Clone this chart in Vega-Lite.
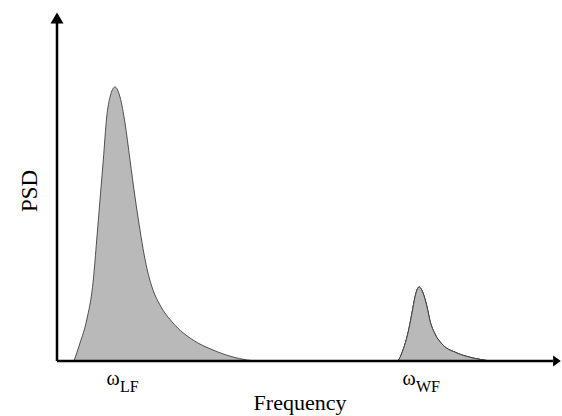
{
  "$schema": "https://vega.github.io/schema/vega-lite/v6.json",
  "width": 562,
  "height": 416,
  "autosize": {"type": "fit", "contains": "padding"},
  "padding": 0,
  "background": "white",
  "config": {"view": {"stroke": null}},
  "datasets": {
    "psd": [
      {"peak": "LF", "f": 0.17, "p": 0},
      {"peak": "LF", "f": 0.23, "p": 0.18},
      {"peak": "LF", "f": 0.297, "p": 0.41},
      {"peak": "LF", "f": 0.363, "p": 0.81},
      {"peak": "LF", "f": 0.397, "p": 1.21},
      {"peak": "LF", "f": 0.43, "p": 1.61},
      {"peak": "LF", "f": 0.463, "p": 2.01},
      {"peak": "LF", "f": 0.497, "p": 2.44},
      {"peak": "LF", "f": 0.53, "p": 2.64},
      {"peak": "LF", "f": 0.58, "p": 2.74},
      {"peak": "LF", "f": 0.63, "p": 2.64},
      {"peak": "LF", "f": 0.68, "p": 2.38},
      {"peak": "LF", "f": 0.73, "p": 2.01},
      {"peak": "LF", "f": 0.78, "p": 1.64},
      {"peak": "LF", "f": 0.83, "p": 1.31},
      {"peak": "LF", "f": 0.87, "p": 1.07},
      {"peak": "LF", "f": 0.91, "p": 0.88},
      {"peak": "LF", "f": 0.96, "p": 0.71},
      {"peak": "LF", "f": 1.03, "p": 0.56},
      {"peak": "LF", "f": 1.16, "p": 0.38},
      {"peak": "LF", "f": 1.36, "p": 0.21},
      {"peak": "LF", "f": 1.56, "p": 0.11},
      {"peak": "LF", "f": 1.76, "p": 0.04},
      {"peak": "LF", "f": 2.03, "p": 0},
      {"peak": "WF", "f": 3.40, "p": 0},
      {"peak": "WF", "f": 3.46, "p": 0.11},
      {"peak": "WF", "f": 3.51, "p": 0.28},
      {"peak": "WF", "f": 3.55, "p": 0.48},
      {"peak": "WF", "f": 3.58, "p": 0.64},
      {"peak": "WF", "f": 3.62, "p": 0.74},
      {"peak": "WF", "f": 3.66, "p": 0.68},
      {"peak": "WF", "f": 3.70, "p": 0.54},
      {"peak": "WF", "f": 3.73, "p": 0.40},
      {"peak": "WF", "f": 3.78, "p": 0.27},
      {"peak": "WF", "f": 3.86, "p": 0.16},
      {"peak": "WF", "f": 4.00, "p": 0.08},
      {"peak": "WF", "f": 4.16, "p": 0.03},
      {"peak": "WF", "f": 4.33, "p": 0}
    ],
    "axes": [
      {"f": 0, "f2": 0, "p": 0, "p2": 3.38},
      {"f": 0, "f2": 4.96, "p": 0, "p2": 0}
    ],
    "labels": [
      {"f": 0.56, "p": -0.24, "main": "ω", "sub": "LF"},
      {"f": 3.52, "p": -0.24, "main": "ω", "sub": "WF"}
    ],
    "titles": [
      {"f": 2.43, "p": -0.49, "text": "Frequency", "angle": 0, "size": 22},
      {"f": -0.2, "p": 1.7, "text": "PSD", "angle": 270, "size": 23}
    ]
  },
  "encoding": {
    "x": {"field": "f", "type": "quantitative", "scale": {"domain": [-0.57, 5.05], "nice": false, "zero": false}, "axis": null},
    "y": {"field": "p", "type": "quantitative", "scale": {"domain": [-0.55, 3.61], "nice": false, "zero": false}, "axis": null}
  },
  "layer": [
    {
      "data": {"name": "psd"},
      "mark": {"type": "area", "interpolate": "monotone", "fill": "#b9b9b9", "stroke": "#404040", "strokeWidth": 0.9},
      "encoding": {"detail": {"field": "peak"}}
    },
    {
      "data": {"name": "axes"},
      "mark": {"type": "rule", "color": "black", "strokeWidth": 2.5},
      "encoding": {
        "x2": {"field": "f2"},
        "y2": {"field": "p2"}
      }
    },
    {
      "data": {"values": [{"f": 0, "p": 3.43}]},
      "mark": {"type": "point", "shape": "M-1,0.85L0,-0.85L1,0.85Z", "size": 169, "filled": true, "color": "black", "opacity": 1}
    },
    {
      "data": {"values": [{"f": 5.0, "p": 0}]},
      "mark": {"type": "point", "shape": "M-0.7,-1L0.7,0L-0.7,1Z", "size": 121, "filled": true, "color": "black", "opacity": 1}
    },
    {
      "data": {"name": "labels"},
      "mark": {"type": "text", "font": "Liberation Serif", "fontSize": 20, "align": "center", "baseline": "alphabetic", "color": "black"},
      "encoding": {"text": {"field": "main"}}
    },
    {
      "data": {"name": "labels"},
      "mark": {"type": "text", "font": "Liberation Serif", "fontSize": 16, "align": "left", "baseline": "alphabetic", "dx": 7, "dy": 7, "color": "black"},
      "encoding": {"text": {"field": "sub"}}
    },
    {
      "data": {"name": "titles"},
      "mark": {"type": "text", "font": "Liberation Serif", "align": "center", "baseline": "alphabetic", "color": "black"},
      "encoding": {
        "text": {"field": "text"},
        "angle": {"field": "angle", "type": "quantitative", "scale": null},
        "size": {"field": "size", "type": "quantitative", "scale": null}
      }
    }
  ]
}
